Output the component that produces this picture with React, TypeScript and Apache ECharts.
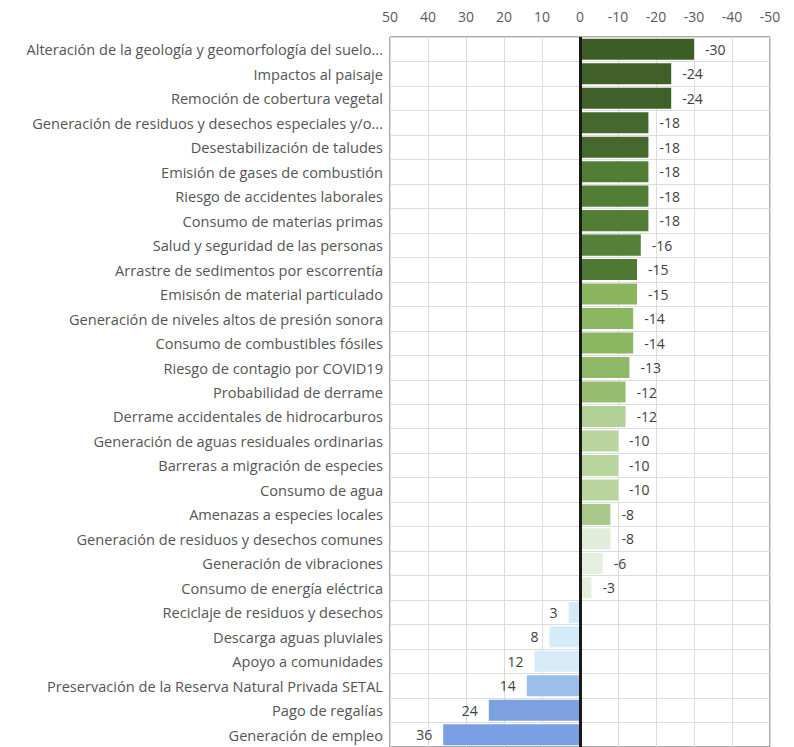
import React, { useEffect, useRef } from "react";
import * as echarts from "echarts";

const categories = [
  "Alteración de la geología y geomorfología del suelo...",
  "Impactos al paisaje",
  "Remoción de cobertura vegetal",
  "Generación de residuos y desechos especiales y/o...",
  "Desestabilización de taludes",
  "Emisión de gases de combustión",
  "Riesgo de accidentes laborales",
  "Consumo de materias primas",
  "Salud y seguridad de las personas",
  "Arrastre de sedimentos por escorrentía",
  "Emisisón de material particulado",
  "Generación de niveles altos de presión sonora",
  "Consumo de combustibles fósiles",
  "Riesgo de contagio por COVID19",
  "Probabilidad de derrame",
  "Derrame accidentales de hidrocarburos",
  "Generación de aguas residuales ordinarias",
  "Barreras a migración de especies",
  "Consumo de agua",
  "Amenazas a especies locales",
  "Generación de residuos y desechos comunes",
  "Generación de vibraciones",
  "Consumo de energía eléctrica",
  "Reciclaje de residuos y desechos",
  "Descarga aguas pluviales",
  "Apoyo a comunidades",
  "Preservación de la Reserva Natural Privada SETAL",
  "Pago de regalías",
  "Generación de empleo",
];

const values = [
  -30, -24, -24, -18, -18, -18, -18, -18, -16, -15, -15, -14, -14, -13, -12, -12,
  -10, -10, -10, -8, -8, -6, -3, 3, 8, 12, 14, 24, 36,
];

const barColors = [
  "#3e5e28", "#3f6029", "#3f6029", "#44682d", "#44682d", "#527d34", "#527d34",
  "#527d34", "#54803a", "#4e7833", "#8ab45e", "#8bb662", "#8bb662", "#8fb868",
  "#96bd70", "#b2d197", "#b8d59e", "#b8d59e", "#b8d59e", "#a8c98a", "#e0edd8",
  "#e4f0dd", "#e2efda", "#d4ebf7", "#d4ecf8", "#d6ecf8", "#9dbdec", "#7ca0e0",
  "#7aa0e3",
];

const xTicks = { min: -50, max: 50, interval: 10 };

export default function App() {
  const ref = useRef<HTMLDivElement>(null);
  useEffect(() => {
    document.body.style.margin = "0";
    if (!ref.current) return;
    const chart = echarts.init(ref.current, null, { renderer: "svg" });
    const font = "'Open Sans', sans-serif";
    chart.setOption({
      animation: false,
      backgroundColor: "#ffffff",
      textStyle: { fontFamily: font },
      grid: {
        left: 390,
        right: 24,
        top: 37,
        height: 712.6,
        show: true,
        borderColor: "#555555",
        borderWidth: 1,
        backgroundColor: "transparent",
      },
      xAxis: {
        type: "value",
        position: "top",
        inverse: true,
        min: xTicks.min,
        max: xTicks.max,
        interval: xTicks.interval,
        axisLine: { show: false },
        axisTick: { show: false },
        axisLabel: { color: "#5a5a5a", fontSize: 14, margin: 14, fontFamily: font },
        splitLine: { show: true, lineStyle: { color: "#dcdcdc", width: 1 } },
      },
      yAxis: {
        type: "category",
        inverse: true,
        data: categories,
        axisLine: { show: false },
        axisTick: { show: false },
        axisLabel: { color: "#555555", fontSize: 14.6, margin: 7, fontFamily: font },
        splitLine: { show: true, lineStyle: { color: "#dcdcdc", width: 1 } },
      },
      series: [
        {
          type: "bar",
          barCategoryGap: "14%",
          data: values.map((v, i) => ({
            value: v,
            itemStyle: { color: barColors[i] },
            label: {
              show: true,
              position: v < 0 ? "right" : "left",
              distance: 11,
              color: "#404040",
              fontSize: 14,
              fontFamily: font,
            },
          })),
          markLine: {
            silent: true,
            symbol: "none",
            label: { show: false },
            lineStyle: { color: "#1a1a1a", width: 3, type: "solid" },
            data: [{ xAxis: 0 }],
            z: 10,
          },
        },
      ],
    });
    return () => chart.dispose();
  }, []);
  return <div ref={ref} style={{ width: 794, height: 747 }} />;
}
